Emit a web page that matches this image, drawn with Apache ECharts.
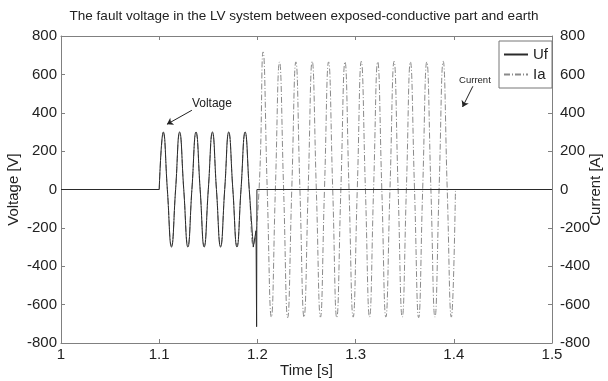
<!DOCTYPE html>
<html>
<head>
<meta charset="utf-8">
<script src="https://cdn.jsdelivr.net/npm/echarts@6/dist/echarts.min.js"></script>
<style>
  html, body { margin: 0; padding: 0; background: #fff; }
  #chart { width: 608px; height: 381px; }
</style>
</head>
<body>
<div id="chart"></div>
<script>
// time ticks and axis ranges
const timeTicks = [1, 1.1, 1.2, 1.3, 1.4, 1.5];
const valueTicks = [-800, -600, -400, -200, 0, 200, 400, 600, 800];

// Uf before the fault: flat zero
const ufFlatT = [1.0, 1.1];
const ufFlatV = [0, 0];

// Uf during 1.1 .. 1.2 (quarter-period points)
const waveT = [1.1000, 1.1042, 1.1083, 1.1125, 1.1167, 1.1208, 1.1250, 1.1292,
               1.1333, 1.1375, 1.1417, 1.1458, 1.1500, 1.1542, 1.1583, 1.1625,
               1.1667, 1.1708, 1.1750, 1.1792, 1.1833, 1.1875, 1.1917, 1.1958];
const ufWaveV = [0, 300, 0, -300, 0, 300, 0, -300, 0, 300, 0, -300,
                 0, 300, 0, -300, 0, 300, 0, -300, 0, 300, 0, -300];

// Uf spike at disconnection, then zero
const ufTailT = [1.1958, 1.1986, 1.1992, 1.1995, 1.5];
const ufTailV = [-300, -215, -715, 0, 0];

// Ia before the fault
const iaFlatT = [1.0, 1.1];
const iaFlatV = [0, 0];

// Ia follows Uf in 1.1 .. 1.2, then the fault current 1.2 .. 1.4
const iaWaveT = waveT.concat([
  1.2017, 1.2058, 1.2100, 1.2142, 1.2183, 1.2225, 1.2267, 1.2308,
  1.2350, 1.2392, 1.2433, 1.2475, 1.2517, 1.2558, 1.2600, 1.2642,
  1.2683, 1.2725, 1.2767, 1.2808, 1.2850, 1.2892, 1.2933, 1.2975,
  1.3017, 1.3058, 1.3100, 1.3142, 1.3183, 1.3225, 1.3267, 1.3308,
  1.3350, 1.3392, 1.3433, 1.3475, 1.3517, 1.3558, 1.3600, 1.3642,
  1.3683, 1.3725, 1.3767, 1.3808, 1.3850, 1.3892, 1.3933, 1.3975, 1.4017]);
const iaWaveV = [0, 292, 0, -292, 0, 292, 0, -292, 0, 292, 0, -292,
                 0, 292, 0, -292, 0, 292, 0, -292, 0, 292, 0, -292,
  0, 717, 0, -665, 0, 665, 0, -668, 0, 665, 0, -665, 0, 668, 0, -665,
  0, 665, 0, -668, 0, 665, 0, -665, 0, 668, 0, -665, 0, 665, 0, -665,
  0, 668, 0, -665, 0, 665, 0, -668, 0, 665, 0, -665, 0, 668, 0, -665, 0];

// Ia after clearing
const iaTailT = [1.4017, 1.5];
const iaTailV = [0, 0];

// annotation anchors (data space)
const voltageArrow = [[1.1333, 413], [1.1079, 340]];
const currentArrow = [[1.4194, 538], [1.4089, 430]];

const pairs = (t, v) => t.map((x, i) => [x, v[i]]);

const FONT = "Liberation Sans, Arial, sans-serif";
const UF_COLOR = "#2a2a2a";
const IA_COLOR = "#8a8a8a";
const AXIS_COLOR = "#808080";

const ufStyle = { color: UF_COLOR, width: 1, type: "solid" };
const iaStyle = { color: IA_COLOR, width: 1, type: [6, 2, 1, 2] };

const baseLine = (name, data, style, yIdx, smooth) => ({
  name,
  type: "line",
  yAxisIndex: yIdx,
  data,
  smooth,
  showSymbol: false,
  symbol: "none",
  color: style.color,
  lineStyle: style,
  animation: false,
  z: name === "Uf" ? 3 : 2,
});

const chart = echarts.init(document.getElementById("chart"), null, { renderer: "canvas" });

const valueAxis = (pos) => ({
  type: "value",
  position: pos,
  min: -800,
  max: 800,
  interval: 200,
  name: pos === "left" ? "Voltage [V]" : "Current [A]",
  nameLocation: "middle",
  nameGap: pos === "left" ? 40 : 36,
  nameMoveOverlap: false,
  nameTextStyle: { fontFamily: FONT, fontSize: 15, color: "#222" },
  axisLine: { show: true, onZero: false, lineStyle: { color: AXIS_COLOR } },
  axisTick: { show: true, inside: true, length: 4, lineStyle: { color: AXIS_COLOR } },
  axisLabel: {
    fontFamily: FONT, fontSize: 15, color: "#222",
    margin: pos === "left" ? 4 : 8,
    formatter: (v) => (valueTicks.includes(v) ? String(v) : ""),
  },
  splitLine: { show: false },
});

const timeAxis = (pos) => ({
  type: "value",
  position: pos,
  min: 1,
  max: 1.5,
  interval: 0.1,
  name: pos === "bottom" ? "Time [s]" : "",
  nameLocation: "middle",
  nameGap: 20,
  nameMoveOverlap: false,
  nameTextStyle: { fontFamily: FONT, fontSize: 15, color: "#222" },
  axisLine: { show: true, onZero: false, lineStyle: { color: AXIS_COLOR } },
  axisTick: { show: true, inside: true, length: 4, lineStyle: { color: AXIS_COLOR } },
  axisLabel: {
    show: pos === "bottom",
    fontFamily: FONT, fontSize: 15, color: "#222", margin: 4,
    formatter: (v) => {
      const t = timeTicks.find((x) => Math.abs(x - v) < 1e-6);
      return t === undefined ? "" : String(t);
    },
  },
  splitLine: { show: false },
});

const option = {
  backgroundColor: "#fff",
  animation: false,
  title: {
    text: "The fault voltage in the LV system between exposed-conductive part and earth",
    left: "center",
    top: 4,
    textStyle: { fontFamily: FONT, fontSize: 13.5, fontWeight: "normal", color: "#222" },
  },
  grid: {
    left: 61, right: 56, top: 36, bottom: 38,
    containLabel: false,
    outerBoundsMode: "none",
  },
  legend: {
    data: ["Uf", "Ia"],
    orient: "vertical",
    left: 499,
    top: 41,
    padding: [6, 4, 6, 4],
    itemGap: 5,
    itemWidth: 24,
    itemHeight: 12,
    backgroundColor: "#fff",
    borderColor: "#777",
    borderWidth: 1,
    itemStyle: { opacity: 0 },
    textStyle: { fontFamily: FONT, fontSize: 15, color: "#222" },
  },
  xAxis: [timeAxis("bottom"), timeAxis("top")],
  yAxis: [valueAxis("left"), valueAxis("right")],
  series: [
    baseLine("Ia", pairs(iaFlatT, iaFlatV), iaStyle, 1, false),
    Object.assign(baseLine("Ia", pairs(iaWaveT, iaWaveV), iaStyle, 1, 0.5), {
      markLine: {
        silent: true,
        symbol: ["none", "arrow"],
        symbolSize: 6,
        lineStyle: { color: "#222", width: 1, type: "solid" },
        label: { show: false },
        data: [
          [{ coord: voltageArrow[0] }, { coord: voltageArrow[1] }],
          [{ coord: currentArrow[0] }, { coord: currentArrow[1] }],
        ],
      },
      markPoint: {
        silent: true,
        symbol: "circle",
        symbolSize: 0,
        data: [
          {
            coord: [voltageArrow[0][0], voltageArrow[0][1] + 35],
            label: { show: true, position: "right", distance: 0, formatter: "Voltage",
                     fontFamily: FONT, fontSize: 12, color: "#222" },
          },
          {
            coord: [currentArrow[0][0] - 0.014, currentArrow[0][1] + 30],
            label: { show: true, position: "right", distance: 0, formatter: "Current",
                     fontFamily: FONT, fontSize: 9.5, color: "#222" },
          },
        ],
      },
    }),
    baseLine("Ia", pairs(iaTailT, iaTailV), iaStyle, 1, false),
    baseLine("Uf", pairs(ufFlatT, ufFlatV), ufStyle, 0, false),
    baseLine("Uf", pairs(waveT, ufWaveV), ufStyle, 0, 0.5),
    baseLine("Uf", pairs(ufTailT, ufTailV), ufStyle, 0, false),
  ],
};

chart.setOption(option);
</script>
</body>
</html>
